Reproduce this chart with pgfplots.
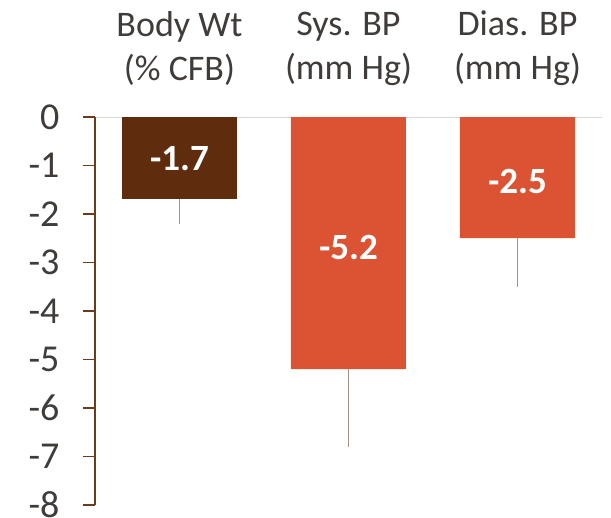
\documentclass[border=0pt]{standalone}
\usepackage{fontspec}
\setmainfont{Carlito}
\usepackage{pgfplots}
\pgfplotsset{compat=1.18}
\definecolor{barBrown}{RGB}{95, 44, 13}
\definecolor{barOrange}{RGB}{220, 83, 52}
\definecolor{errGray}{RGB}{160, 148, 138}
\definecolor{axisBrown}{RGB}{110, 58, 28}
\definecolor{zeroLine}{RGB}{217, 214, 212}
\definecolor{labelInk}{RGB}{64, 60, 58}

\begin{document}
\begin{tikzpicture}
\begin{axis}[
    scale only axis,
    width=507pt, height=388pt,
    xmin=-0.5, xmax=2.5, ymin=-8, ymax=0,
    ybar, bar width=115pt, bar shift=0pt,
    axis x line*=top, axis y line*=left,
    x axis line style={zeroLine, line width=1pt},
    y axis line style={axisBrown, line width=1.2pt},
    xtick={0,1,2},
    xticklabels={Body Wt\\(\% CFB), Sys. BP\\(mm Hg), Dias. BP\\(mm Hg)},
    xticklabel style={align=center, font=\fontsize{36pt}{44pt}\selectfont, text=labelInk, yshift=16pt},
    x tick style={draw=none},
    ytick={-8,-7,...,0},
    yticklabel style={font=\fontsize{38pt}{40pt}\selectfont, text=labelInk, xshift=-20pt},
    y tick style={axisBrown, line width=1.2pt},
    tick align=outside, major tick length=12pt,
    /pgf/number format/assume math mode=true,
    clip=false,
]
\addplot[fill=barBrown, draw=none,
    error bars/.cd, y dir=minus, y explicit,
    error bar style={errGray, line width=1.3pt}, error mark=none]
    coordinates {(0,-1.7) -= (0,0.5)};
\addplot[fill=barOrange, draw=none,
    error bars/.cd, y dir=minus, y explicit,
    error bar style={errGray, line width=1.3pt}, error mark=none]
    coordinates {(1,-5.2) -= (0,1.6) (2,-2.5) -= (0,1.0)};
% value labels in the middle of each bar
\addplot[draw=none, fill=none, mark=none, forget plot,
    nodes near coords, point meta=explicit symbolic,
    every node near coord/.append style={anchor=center, text=white,
        font=\fontsize{37pt}{40pt}\selectfont\bfseries}]
    coordinates {(0,-0.85)[-1.7] (1,-2.7)[-5.2] (2,-1.33)[-2.5]};
\end{axis}
\pgfresetboundingbox
\path (-95pt,-13pt) rectangle (516pt,505pt);
\end{tikzpicture}
\end{document}
